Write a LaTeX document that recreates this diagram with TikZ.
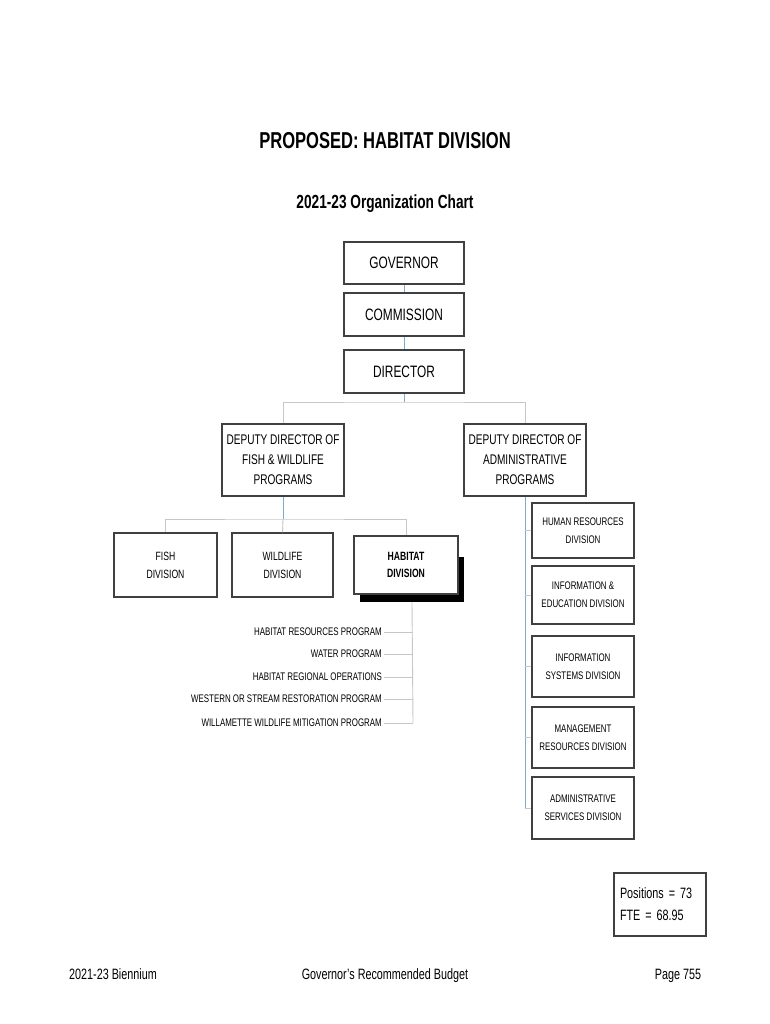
\documentclass[tikz,border=0pt]{standalone}
\usepackage{fontspec}
\setmainfont{Liberation Sans}[FakeStretch=0.72]
\begin{document}
\begin{tikzpicture}[x=1pt,y=-1pt,
  box/.style={draw=black!75,line width=1.2pt,fill=white,rectangle,inner sep=0pt,align=center},
  bigbox/.style={box,minimum width=120pt,minimum height=42pt,font=\fontsize{16.5}{20}\selectfont},
  depbox/.style={box,minimum width=122pt,minimum height=72pt,font=\fontsize{14}{20}\selectfont},
  divbox/.style={box,minimum height=64pt,font=\fontsize{12}{18}\selectfont},
  rbox/.style={box,minimum width=102pt,font=\fontsize{11}{18}\selectfont},
  prog/.style={anchor=east,inner sep=2pt,font=\fontsize{11}{13}\selectfont},
  gline/.style={draw=black!22,line width=0.9pt},
  bline/.style={draw=blue!45!cyan!60!black!50,line width=0.9pt},
  foot/.style={anchor=base,font=\fontsize{15}{18}\selectfont}]
\useasboundingbox[fill=white] (0,0) rectangle (770,1024);

% titles
\node[font=\bfseries\fontsize{23}{26}\selectfont] (title) at (385,141) {PROPOSED: HABITAT DIVISION};
\node[font=\bfseries\fontsize{19}{22}\selectfont] (sub) at (385,204) {2021-23 Organization Chart};

% top chain
\node[bigbox] (gov) at (404,263) {GOVERNOR};
\node[bigbox,minimum height=43pt] (com) at (404,314.5) {COMMISSION};
\node[bigbox,minimum height=43pt] (dir) at (404,371.5) {DIRECTOR};

% deputies
\node[depbox] (dd1) at (283,460) {DEPUTY DIRECTOR OF\\FISH \& WILDLIFE\\PROGRAMS};
\node[depbox] (dd2) at (525,460) {DEPUTY DIRECTOR OF\\ADMINISTRATIVE\\PROGRAMS};

% divisions
\node[divbox,minimum width=103pt] (fish) at (165.5,565) {FISH\\DIVISION};
\node[divbox,minimum width=101pt] (wild) at (282.5,565) {WILDLIFE\\DIVISION};
\node[fill=black,minimum width=104pt,minimum height=45pt,inner sep=0pt] (habsh) at (412,579.5) {};
\node[divbox,minimum width=104pt,minimum height=58pt,font=\bfseries\fontsize{12}{17}\selectfont] (hab) at (406,565) {HABITAT\\DIVISION};

% programs
\node[prog] (p1) at (384,632) {HABITAT RESOURCES PROGRAM};
\node[prog] (p2) at (384,654) {WATER PROGRAM};
\node[prog] (p3) at (384,677) {HABITAT REGIONAL OPERATIONS};
\node[prog] (p4) at (384,699) {WESTERN OR STREAM RESTORATION PROGRAM};
\node[prog] (p5) at (384,723) {WILLAMETTE WILDLIFE MITIGATION PROGRAM};
\coordinate (hbend) at (413,723);

% admin divisions
\node[rbox,minimum height=55pt] (hr) at (583,530.5) {HUMAN RESOURCES\\DIVISION};
\node[rbox,minimum height=58pt] (ie) at (583,595) {INFORMATION \&\\EDUCATION DIVISION};
\node[rbox,minimum height=61pt] (is) at (583,666.5) {INFORMATION\\SYSTEMS DIVISION};
\node[rbox,minimum height=61pt] (mr) at (583,737.5) {MANAGEMENT\\RESOURCES DIVISION};
\node[rbox,minimum height=62pt] (as) at (583,808) {ADMINISTRATIVE\\SERVICES DIVISION};
\coordinate (adend) at (525,808);

% totals
\node[box,minimum width=92pt,minimum height=63pt,align=left,font=\fontsize{15}{22}\selectfont,text width=80pt] (pos) at (660,904.5) {Positions = 73\\FTE = 68.95};

% footer
\node[foot] (f1) at (113,979) {2021-23 Biennium};
\node[foot] (f2) at (385,979) {Governor's Recommended Budget};
\node[foot] (f3) at (678,979) {Page 755};

% connectors
\coordinate (j1) at (404,402);
\coordinate (j2) at (283,519);
\draw[bline] (gov.south) -- (com.north);
\draw[bline] (com.south) -- (dir.north);
\draw[bline] (dir.south) -- (j1);
\draw[gline] (dd1.north) |- (j1) -| (dd2.north);
\draw[bline] (dd1.south) -- (j2);
\draw[gline] (fish.north) |- (j2) -| (hab.north);
\draw[gline] (j2) -- (wild.north);
\draw[gline] (habsh.south) -- (hbend);
\foreach \p in {p1,p2,p3,p4,p5} \draw[gline] (\p.east) -- (\p.east -| hbend);
\draw[bline] (dd2.south) -- (adend);
\foreach \b in {hr,ie,is,mr,as} \draw[gline] (\b.west) -- (\b.west -| adend);
\end{tikzpicture}
\end{document}
